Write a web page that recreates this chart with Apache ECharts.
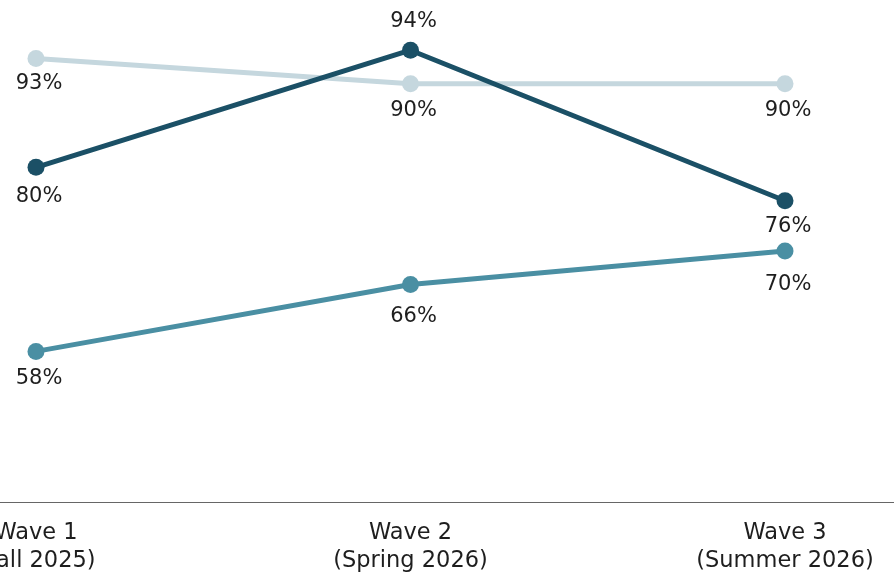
<!DOCTYPE html>
<html><head><meta charset="utf-8">
<script src="https://cdn.jsdelivr.net/npm/echarts@6/dist/echarts.min.js"></script>
<style>html,body{margin:0;padding:0;background:#fff}#c{width:894px;height:574px}</style>
</head><body><div id="c"></div>
<script>
const categories = ['Wave 1\n(Fall 2025)', 'Wave 2\n(Spring 2026)', 'Wave 3\n(Summer 2026)'];
const seriesLight = [93, 90, 90];
const seriesDark = [80, 94, 76];
const seriesMid = [58, 66, 70];
const labelPosDark = ['bottom', 'top', 'bottom'];

const chart = echarts.init(document.getElementById('c'));
const font = '"DejaVu Sans", sans-serif';
const textColor = '#1e1e1e';
function mk(name, data, color, positions, gaps) {
  return {
    name, type: 'line', xAxisIndex: 1, yAxisIndex: 1,
    data: data.map((v, i) => ({
      value: v,
      label: { position: positions ? positions[i] : 'bottom', distance: gaps[i] }
    })),
    symbol: 'circle', symbolSize: 17,
    lineStyle: { color, width: 5 },
    itemStyle: { color },
    label: { show: true, formatter: '{c}%', offset: [3, 0], fontSize: 21, color: textColor, fontFamily: font },
    emphasis: { disabled: true },
    animation: false
  };
}
chart.setOption({
  grid: [
    { left: 0, right: 0, top: 0, bottom: 72, outerBoundsMode: 'none' },
    { left: 36, right: 109, top: 0, bottom: 72, outerBoundsMode: 'none' }
  ],
  xAxis: [
    { type: 'category', gridIndex: 0, data: categories,
      axisLine: { lineStyle: { color: '#666', width: 1 } },
      axisTick: { show: false }, axisLabel: { show: false } },
    { type: 'category', gridIndex: 1, data: categories, boundaryGap: false,
      axisLine: { show: false }, axisTick: { show: false },
      axisLabel: { fontSize: 22.5, color: textColor, fontFamily: font, lineHeight: 28, margin: 17 } }
  ],
  yAxis: [
    { type: 'value', gridIndex: 0, min: 40, max: 100, show: false },
    { type: 'value', gridIndex: 1, min: 40, max: 100, show: false }
  ],
  series: [
    mk('light', seriesLight, '#c5d7de', null, [6, 8, 8]),
    mk('dark', seriesDark, '#1b5066', labelPosDark, [10, 10, 7]),
    mk('mid', seriesMid, '#4a8fa3', null, [8, 13, 15])
  ]
});
</script></body></html>
